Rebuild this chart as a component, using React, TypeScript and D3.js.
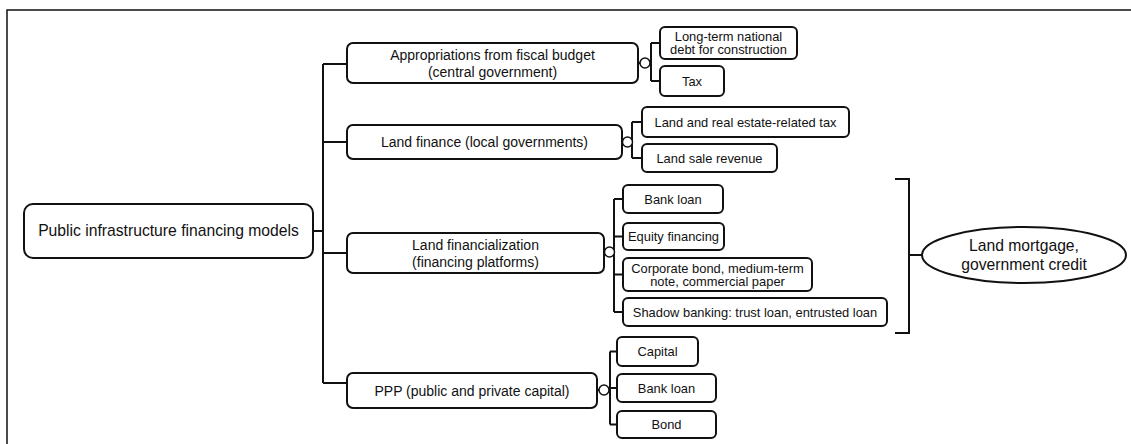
import React from 'react';
import * as d3 from 'd3';

// labels
const rootLabel = ['Public infrastructure financing models'];
const branchLabels = [
  ['Appropriations from fiscal budget', '(central government)'],
  ['Land finance (local governments)'],
  ['Land financialization', '(financing platforms)'],
  ['PPP (public and private capital)'],
];
const sourceLabels = [
  [['Long-term national', 'debt for construction'], ['Tax']],
  [['Land and real estate-related tax'], ['Land sale revenue']],
  [
    ['Bank loan'],
    ['Equity financing'],
    ['Corporate bond, medium-term', 'note, commercial paper'],
    ['Shadow banking: trust loan, entrusted loan'],
  ],
  [['Capital'], ['Bank loan'], ['Bond']],
];
const creditLabel = ['Land mortgage,', 'government credit'];

// layout (pixels)
const W = 1131;
const H = 444;
const FONT = '"Liberation Sans", Arial, sans-serif';
const INK = '#111';

const rootBox = { x0: 24, x1: 313, y0: 204, y1: 258, r: 9 };
const trunkX = 323;
const branchX0 = 347;
const branchBoxes = [
  { x1: 638, y0: 43, y1: 83, link: 64, knot: 63 },
  { x1: 622, y0: 125, y1: 159, link: 142, knot: 142 },
  { x1: 604, y0: 233, y1: 273, link: 253, knot: 252 },
  { x1: 597, y0: 373, y1: 408, link: 383, knot: 390 },
];
const bracketX = [651, 632, 614, 610];
const sourceX0 = [660, 642, 623, 617];
const sourceBoxes = [
  [
    { x1: 797, y0: 27, y1: 59 },
    { x1: 724, y0: 66, y1: 96 },
  ],
  [
    { x1: 849, y0: 107, y1: 137 },
    { x1: 777, y0: 144, y1: 172 },
  ],
  [
    { x1: 723, y0: 185, y1: 213 },
    { x1: 724, y0: 223, y1: 250 },
    { x1: 812, y0: 258, y1: 291 },
    { x1: 887, y0: 298, y1: 326 },
  ],
  [
    { x1: 698, y0: 337, y1: 366 },
    { x1: 716, y0: 374, y1: 402 },
    { x1: 716, y0: 411, y1: 438 },
  ],
];
const bigBracket = { x: 909, tick: 895, y0: 179, y1: 333, mid: 255 };
const ellipse = { cx: 1024, cy: 255, rx: 102, ry: 28 };

const Label = ({ lines, x, cy, size, gap }) => (
  <text x={x} fontFamily={FONT} fontSize={size} fill={INK} textAnchor="middle">
    {lines.map((t, i) => (
      <tspan key={i} x={x} y={cy + (i - (lines.length - 1) / 2) * gap} dy="0.36em">
        {t}
      </tspan>
    ))}
  </text>
);

const bracketPath = (x, ys, xOut) => {
  const p = d3.path();
  p.moveTo(x, d3.min(ys));
  p.lineTo(x, d3.max(ys));
  ys.forEach((y) => {
    p.moveTo(x, y);
    p.lineTo(xOut, y);
  });
  return p.toString();
};

const App = () => {
  const rootMid = (rootBox.y0 + rootBox.y1) / 2;
  const linkYs = branchBoxes.map((b) => b.link);
  const trunk = d3.path();
  trunk.moveTo(rootBox.x1, rootMid);
  trunk.lineTo(trunkX, rootMid);
  trunk.moveTo(trunkX, d3.min(linkYs));
  trunk.lineTo(trunkX, d3.max(linkYs));
  linkYs.forEach((y) => {
    trunk.moveTo(trunkX, y);
    trunk.lineTo(branchX0, y);
  });

  const bb = d3.path();
  bb.moveTo(bigBracket.tick, bigBracket.y0);
  bb.lineTo(bigBracket.x, bigBracket.y0);
  bb.lineTo(bigBracket.x, bigBracket.y1);
  bb.lineTo(bigBracket.tick, bigBracket.y1);
  bb.moveTo(bigBracket.x, bigBracket.mid);
  bb.lineTo(ellipse.cx - ellipse.rx, bigBracket.mid);

  return (
    <svg width={W} height={H} style={{ position: 'absolute', left: 0, top: 0, background: '#fff' }}>
      {/* frame */}
      <path d={`M7,${H} V10 H${W}`} fill="none" stroke={INK} strokeWidth={1.5} />

      <path d={trunk.toString()} fill="none" stroke={INK} strokeWidth={2} />
      <rect
        x={rootBox.x0}
        y={rootBox.y0}
        width={rootBox.x1 - rootBox.x0}
        height={rootBox.y1 - rootBox.y0}
        rx={rootBox.r}
        fill="#fff"
        stroke={INK}
        strokeWidth={2}
      />
      <Label lines={rootLabel} x={(rootBox.x0 + rootBox.x1) / 2} cy={rootMid - 1} size={15.7} gap={19} />

      {branchBoxes.map((b, i) => {
        const kids = sourceBoxes[i];
        const kidYs = kids.map((k) => (k.y0 + k.y1) / 2);
        const kidX0 = sourceX0[i];
        return (
          <g key={i}>
            <path d={bracketPath(bracketX[i], kidYs, kidX0)} fill="none" stroke={INK} strokeWidth={2} />
            <line x1={b.x1} x2={bracketX[i]} y1={b.knot} y2={b.knot} stroke={INK} strokeWidth={2} />
            <rect
              x={branchX0}
              y={b.y0}
              width={b.x1 - branchX0}
              height={b.y1 - b.y0}
              rx={6}
              fill="#fff"
              stroke={INK}
              strokeWidth={2}
            />
            <Label lines={branchLabels[i]} x={(branchX0 + b.x1) / 2} cy={(b.y0 + b.y1) / 2} size={14} gap={17} />
            <circle
              cx={(b.x1 + bracketX[i]) / 2 + 0.5}
              cy={b.knot}
              r={5}
              fill="#fff"
              stroke={INK}
              strokeWidth={1.5}
            />
            {kids.map((k, j) => (
              <g key={j}>
                <rect
                  x={kidX0}
                  y={k.y0}
                  width={k.x1 - kidX0}
                  height={k.y1 - k.y0}
                  rx={5}
                  fill="#fff"
                  stroke={INK}
                  strokeWidth={2}
                />
                <Label
                  lines={sourceLabels[i][j]}
                  x={(kidX0 + k.x1) / 2}
                  cy={(k.y0 + k.y1) / 2}
                  size={12.9}
                  gap={13}
                />
              </g>
            ))}
          </g>
        );
      })}

      <path d={bb.toString()} fill="none" stroke={INK} strokeWidth={2} />
      <ellipse cx={ellipse.cx} cy={ellipse.cy} rx={ellipse.rx} ry={ellipse.ry} fill="#fff" stroke={INK} strokeWidth={2} />
      <Label lines={creditLabel} x={ellipse.cx} cy={ellipse.cy} size={15.7} gap={19} />
    </svg>
  );
};

export default App;
